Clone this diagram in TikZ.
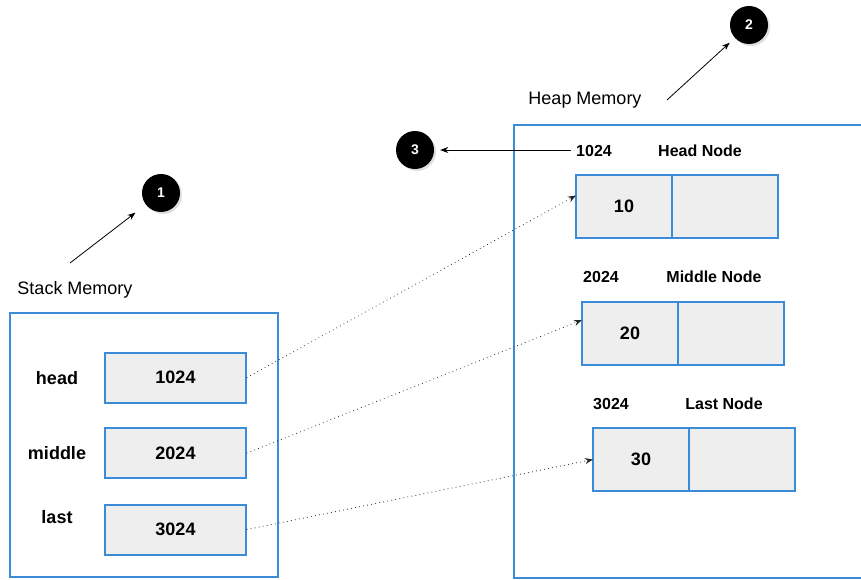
\documentclass[tikz,border=0pt]{standalone}
\usepackage{fontspec}
\setmainfont{Liberation Sans}
\usetikzlibrary{positioning,arrows.meta,shadows}
\definecolor{memblue}{RGB}{58,140,216}
\definecolor{cellgray}{RGB}{238,238,238}

\begin{document}
\begin{tikzpicture}[
    x=1pt, y=-1pt,
    >={Stealth[length=8pt,width=6pt]},
    memory/.style={
        draw=memblue,
        line width=2.2pt,
        fill=white
    },
    cell/.style={
        draw=memblue,
        line width=2pt,
        fill=cellgray,
        minimum width=141pt,
        minimum height=50pt,
        font=\fontsize{18}{20}\selectfont\bfseries
    },
    datapart/.style={
        draw=memblue,
        line width=2pt,
        fill=cellgray,
        outer sep=0pt,
        minimum width=96pt,
        minimum height=63pt,
        font=\fontsize{18}{20}\selectfont\bfseries
    },
    nextpart/.style={
        draw=memblue,
        line width=2pt,
        fill=cellgray,
        outer sep=0pt,
        minimum width=106pt,
        minimum height=63pt
    },
    varname/.style={font=\fontsize{18}{20}\selectfont\bfseries},
    heaplbl/.style={font=\fontsize{16}{18}\selectfont\bfseries},
    title/.style={font=\fontsize{18}{20}\selectfont},
    marker/.style={
        circle,
        fill=black,
        minimum size=38pt,
        inner sep=0pt,
        text=white,
        font=\fontsize{14}{16}\selectfont\bfseries,
        drop shadow={opacity=0.25, shadow xshift=2pt, shadow yshift=-2pt}
    },
    pointer/.style={->, line width=0.8pt},
    link/.style={->, line width=1pt, line cap=round,
        dash pattern=on 0.1pt off 4pt, black!85}
]
\useasboundingbox (0,0) rectangle (861,580);

% memory areas
\node[memory, minimum width=268pt, minimum height=264pt] (stackbox) at (144,445) {};
\node[memory, minimum width=360pt, minimum height=453pt] (heapbox) at (694,351.5) {};

\node[title] (stacktitle) at (75,290) {Stack Memory};
\node[title] (heaptitle) at (585,100) {Heap Memory};

% stack variables
\node[cell] (headcell) at (175.5,377.5) {1024};
\node[cell] (middlecell) at (175.5,453) {2024};
\node[cell] (lastcell) at (175.5,529.5) {3024};

\node[varname] (headvar) at (57,378) {head};
\node[varname] (middlevar) at (57,453) {middle};
\node[varname] (lastvar) at (57,517) {last};

% heap nodes
\node[datapart] (headdata) at (624,206.5) {10};
\node[nextpart, right=0pt of headdata] (headnext) {};
\node[datapart] (middledata) at (630,333) {20};
\node[nextpart, right=0pt of middledata] (middlenext) {};
\node[datapart] (lastdata) at (641,459.5) {30};
\node[nextpart, right=0pt of lastdata] (lastnext) {};

\node[heaplbl] (headaddr) at (594,151) {1024};
\node[heaplbl] (headname) at (700,151) {Head Node};
\node[heaplbl] (middleaddr) at (601,277) {2024};
\node[heaplbl] (middlename) at (714,277) {Middle Node};
\node[heaplbl] (lastaddr) at (611,404) {3024};
\node[heaplbl] (lastname) at (724,404) {Last Node};

% markers
\node[marker] (one) at (161,193) {1};
\node[marker] (two) at (749,25) {2};
\node[marker] (three) at (415,150) {3};

\coordinate (stacktail) at (70,263);
\coordinate (heaptail) at (667,100);

\draw[pointer, shorten >=13pt] (stacktail) -- (one);
\draw[pointer, shorten >=7pt] (heaptail) -- (two);
\draw[pointer, shorten >=6pt, shorten <=2pt] (headaddr.west |- three) -- (three.east);

% references
\draw[link] (headcell.east) -- ([yshift=11pt]headdata.west);
\draw[link] (middlecell.east) -- ([yshift=13pt]middledata.west);
\draw[link] (lastcell.east) -- (lastdata.west);

\end{tikzpicture}
\end{document}
